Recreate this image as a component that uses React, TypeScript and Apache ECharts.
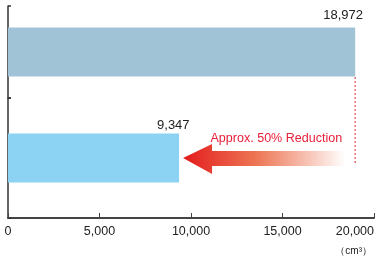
import React, { useEffect, useRef } from "react";
import * as echarts from "echarts";

const categoriesTop = ["Conventional"];
const categoriesBottom = ["New"];
const valuesTop = [18972];
const valuesBottom = [9347];
const xTicks = [0, 5000, 10000, 15000, 20000];
const unitLabel = "（cm³）";
const noteText = "Approx. 50% Reduction";

const fmt = (v: number) => v.toLocaleString("en-US");
const FONT = "'Liberation Sans', Arial, sans-serif";

export default function App() {
  const ref = useRef<HTMLDivElement>(null);
  useEffect(() => {
    if (!ref.current) return;
    const chart = echarts.init(ref.current, null, { renderer: "svg" });
    const axisLineStyle = { color: "#333", width: 1.5 };
    const yAxisCommon = {
      type: "category" as const,
      axisLine: { show: true, lineStyle: axisLineStyle },
      axisTick: { show: true, inside: true, length: 3, lineStyle: axisLineStyle },
      axisLabel: { show: false },
      splitLine: { show: false },
    };
    chart.setOption({
      animation: false,
      grid: [
        { left: 8, top: 6, width: 366, height: 92, containLabel: false, outerBoundsMode: "none" },
        { left: 8, top: 98, width: 366, height: 120, containLabel: false, outerBoundsMode: "none" },
      ],
      xAxis: [
        { type: "value", gridIndex: 0, min: xTicks[0], max: xTicks[xTicks.length - 1], show: false, splitLine: { show: false } },
        {
          type: "value",
          gridIndex: 1,
          min: xTicks[0],
          max: xTicks[xTicks.length - 1],
          interval: xTicks[1] - xTicks[0],
          axisLine: { show: true, lineStyle: { color: "#444", width: 2 } },
          axisTick: { show: true, inside: true, length: 5, lineStyle: { color: "#444", width: 1 } },
          axisLabel: {
            color: "#222",
            fontSize: 12.5,
            fontFamily: FONT,
            margin: 6,
            alignMaxLabel: "right",
            formatter: (v: number) => fmt(v),
          },
          splitLine: { show: false },
        },
      ],
      yAxis: [
        { ...yAxisCommon, gridIndex: 0, data: categoriesTop },
        { ...yAxisCommon, gridIndex: 1, data: categoriesBottom },
      ],
      series: [
        {
          type: "bar",
          xAxisIndex: 0,
          yAxisIndex: 0,
          data: valuesTop,
          barWidth: 49,
          itemStyle: { color: "#a0c3d6" },
          label: {
            show: true,
            position: "right",
            distance: 0,
            offset: [-32, -38],
            color: "#222",
            fontSize: 13,
            fontFamily: FONT,
            formatter: (p: any) => fmt(p.value),
          },
        },
        {
          type: "bar",
          xAxisIndex: 1,
          yAxisIndex: 1,
          data: valuesBottom,
          barWidth: 49,
          itemStyle: { color: "#8cd3f3" },
          label: {
            show: true,
            position: "right",
            distance: 0,
            offset: [-22, -34],
            color: "#222",
            fontSize: 13,
            fontFamily: FONT,
            formatter: (p: any) => fmt(p.value),
          },
        },
      ],
    });

    const [xOld, yTop] = chart.convertToPixel({ xAxisIndex: 0, yAxisIndex: 0 }, [valuesTop[0], 0]) as number[];
    const [xNew, yBot] = chart.convertToPixel({ xAxisIndex: 1, yAxisIndex: 1 }, [valuesBottom[0], 0]) as number[];
    const tipX = xNew + 4;
    const endX = xOld - 10;
    const headBase = tipX + 29;
    const cy = yBot;
    chart.setOption({
      graphic: [
        {
          type: "line",
          shape: { x1: xOld, y1: yTop + 25, x2: xOld, y2: cy + 7 },
          style: { stroke: "#ea6f7a", lineWidth: 1.5, lineDash: [2, 2] },
        },
        {
          type: "polygon",
          shape: {
            points: [
              [tipX, cy],
              [headBase, cy - 14],
              [headBase, cy - 7],
              [endX, cy - 7],
              [endX, cy + 8],
              [headBase, cy + 8],
              [headBase, cy + 16],
            ],
          },
          style: {
            fill: new echarts.graphic.LinearGradient(0, 0, 1, 0, [
              { offset: 0, color: "#e31a1c" },
              { offset: 0.45, color: "rgba(236,110,75,0.95)" },
              { offset: 1, color: "rgba(255,255,255,1)" },
            ]),
          },
        },
        {
          type: "text",
          x: endX - 3,
          y: cy - 21,
          scaleX: 0.93,
          style: {
            text: noteText,
            fill: "#e8203a",
            fontSize: 13.5,
            fontFamily: FONT,
            textAlign: "right",
            textVerticalAlign: "middle",
          },
        },
        {
          type: "text",
          right: 6,
          top: 245,
          style: { text: unitLabel, fill: "#222", fontSize: 10, fontFamily: FONT },
        },
      ],
    });
    return () => chart.dispose();
  }, []);
  return <div ref={ref} style={{ position: "fixed", left: 0, top: 0, width: 378, height: 264 }} />;
}
